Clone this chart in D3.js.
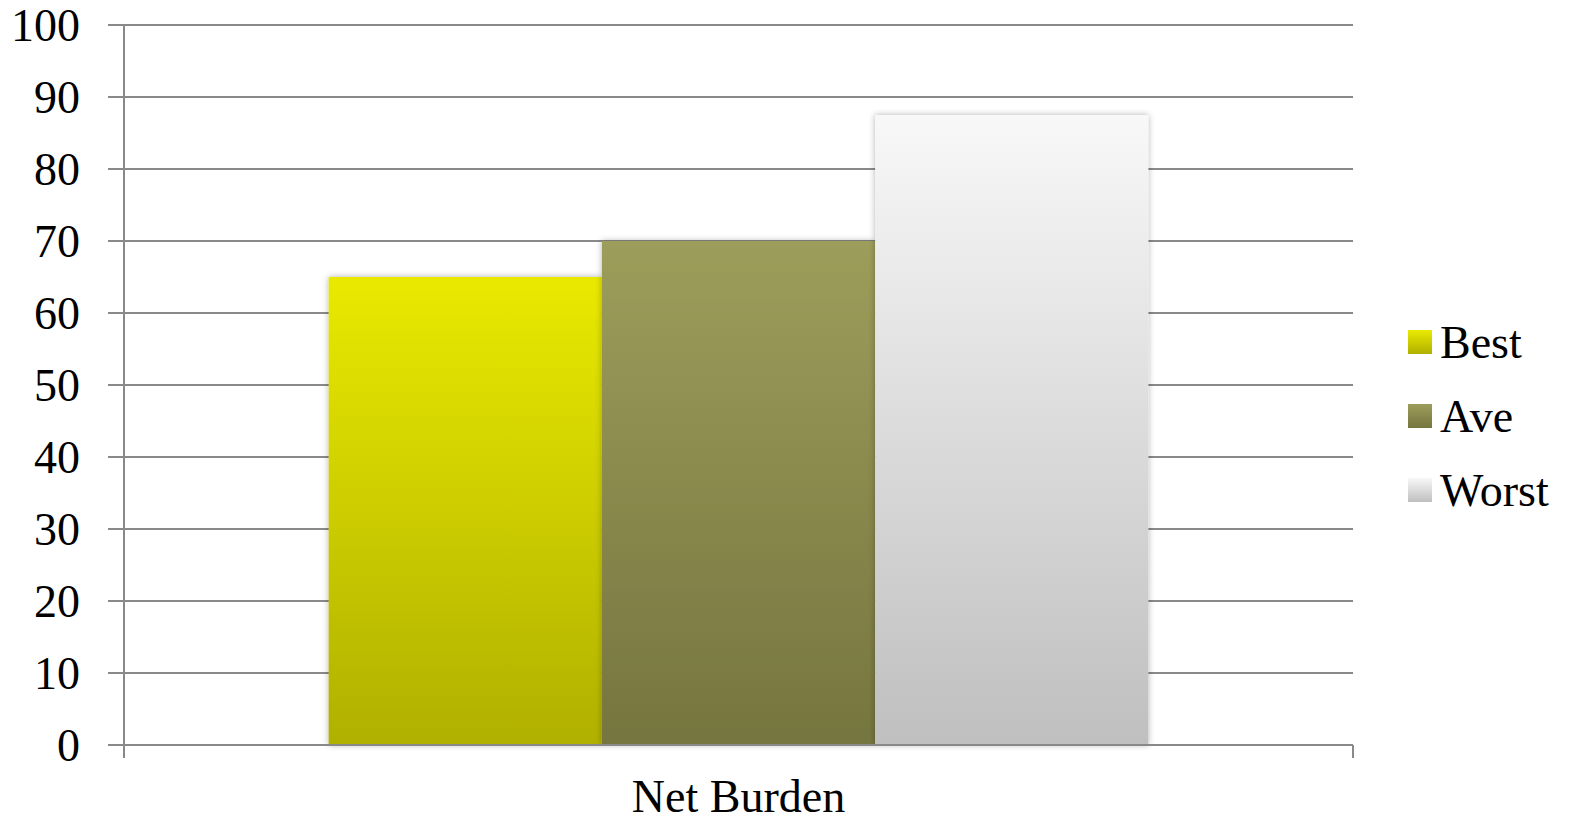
<!DOCTYPE html>
<html>
<head>
<meta charset="utf-8">
<script src="https://cdn.jsdelivr.net/npm/d3@7"></script>
<style>
  html, body { margin: 0; padding: 0; background: #fff; }
  svg { display: block; }
  text { font-family: "Liberation Serif", "Times New Roman", serif; fill: #000; }
</style>
</head>
<body>
<svg id="chart" width="1572" height="823"></svg>
<script>
// Chart data
const categories = ["Net Burden"];
const seriesNames = ["Best", "Ave", "Worst"];
const bestValues = [65];
const aveValues = [70];
const worstValues = [87.5];
const yTicks = [0, 10, 20, 30, 40, 50, 60, 70, 80, 90, 100];

const seriesValues = [bestValues, aveValues, worstValues];
const gradients = [
  { id: "gBest", top: "#e9e900", bottom: "#b0b000" },
  { id: "gAve", top: "#9d9d5b", bottom: "#75753f" },
  { id: "gWorst", top: "#f8f8f8", bottom: "#bfbfbf" }
];

const svg = d3.select("#chart");
const margin = { left: 124, right: 1353, top: 25, bottom: 745 };

const x = d3.scaleBand().domain(categories).range([margin.left, margin.right]).paddingInner(0).paddingOuter(0);
const y = d3.scaleLinear().domain([0, 100]).range([margin.bottom, margin.top]);
const groupPad = 0.1665;
const xs = d3.scaleBand().domain(seriesNames)
  .range([0, x.bandwidth()]).paddingInner(0).paddingOuter(groupPad / (1 - 2 * groupPad) * 3);

const defs = svg.append("defs");
gradients.forEach(g => {
  const lg = defs.append("linearGradient").attr("id", g.id)
    .attr("x1", 0).attr("y1", 0).attr("x2", 0).attr("y2", 1);
  lg.append("stop").attr("offset", "0%").attr("stop-color", g.top);
  lg.append("stop").attr("offset", "100%").attr("stop-color", g.bottom);
});
const shadow = defs.append("filter").attr("id", "shadow")
  .attr("x", "-10%").attr("y", "-10%").attr("width", "120%").attr("height", "120%");
shadow.append("feDropShadow").attr("dx", 0).attr("dy", 0)
  .attr("stdDeviation", 3).attr("flood-color", "#000").attr("flood-opacity", 0.3);

const gridColor = "#898989";

// Horizontal gridlines with tick marks extending left of the axis
svg.append("g").selectAll("line").data(yTicks).join("line")
  .attr("x1", margin.left - 16).attr("x2", margin.right)
  .attr("y1", d => y(d)).attr("y2", d => y(d))
  .attr("stroke", gridColor).attr("stroke-width", 2);

// Bars
const barG = svg.append("g");
categories.forEach((c, ci) => {
  seriesNames.forEach((s, si) => {
    const v = seriesValues[si][ci];
    barG.append("rect")
      .attr("x", x(c) + xs(s))
      .attr("y", y(v))
      .attr("width", xs.bandwidth())
      .attr("height", y(0) - y(v))
      .attr("fill", `url(#${gradients[si].id})`)
      .attr("filter", "url(#shadow)");
  });
});

// Axis lines drawn over the bars
svg.append("line")
  .attr("x1", margin.left).attr("x2", margin.left)
  .attr("y1", margin.top).attr("y2", margin.bottom + 13)
  .attr("stroke", gridColor).attr("stroke-width", 2);
svg.append("line")
  .attr("x1", margin.left - 16).attr("x2", margin.right)
  .attr("y1", y(0)).attr("y2", y(0))
  .attr("stroke", gridColor).attr("stroke-width", 2);
svg.append("line")
  .attr("x1", margin.right).attr("x2", margin.right)
  .attr("y1", y(0)).attr("y2", margin.bottom + 13)
  .attr("stroke", gridColor).attr("stroke-width", 2);

// Y tick labels
svg.append("g").selectAll("text").data(yTicks).join("text")
  .attr("x", 80).attr("y", d => y(d))
  .attr("dy", "0.35em")
  .attr("text-anchor", "end")
  .attr("font-size", 46)
  .text(d => d);

// Category label
svg.append("g").selectAll("text").data(categories).join("text")
  .attr("x", d => x(d) + x.bandwidth() / 2)
  .attr("y", 812)
  .attr("text-anchor", "middle")
  .attr("font-size", 46)
  .text(d => d);

// Legend
const legend = svg.append("g");
seriesNames.forEach((s, i) => {
  const cy = 342 + i * 74;
  legend.append("rect")
    .attr("x", 1408).attr("y", cy - 12)
    .attr("width", 24).attr("height", 24)
    .attr("fill", `url(#${gradients[i].id})`);
  legend.append("text")
    .attr("x", 1440).attr("y", cy)
    .attr("dy", "0.35em")
    .attr("font-size", 46)
    .text(s);
});
</script>
</body>
</html>
